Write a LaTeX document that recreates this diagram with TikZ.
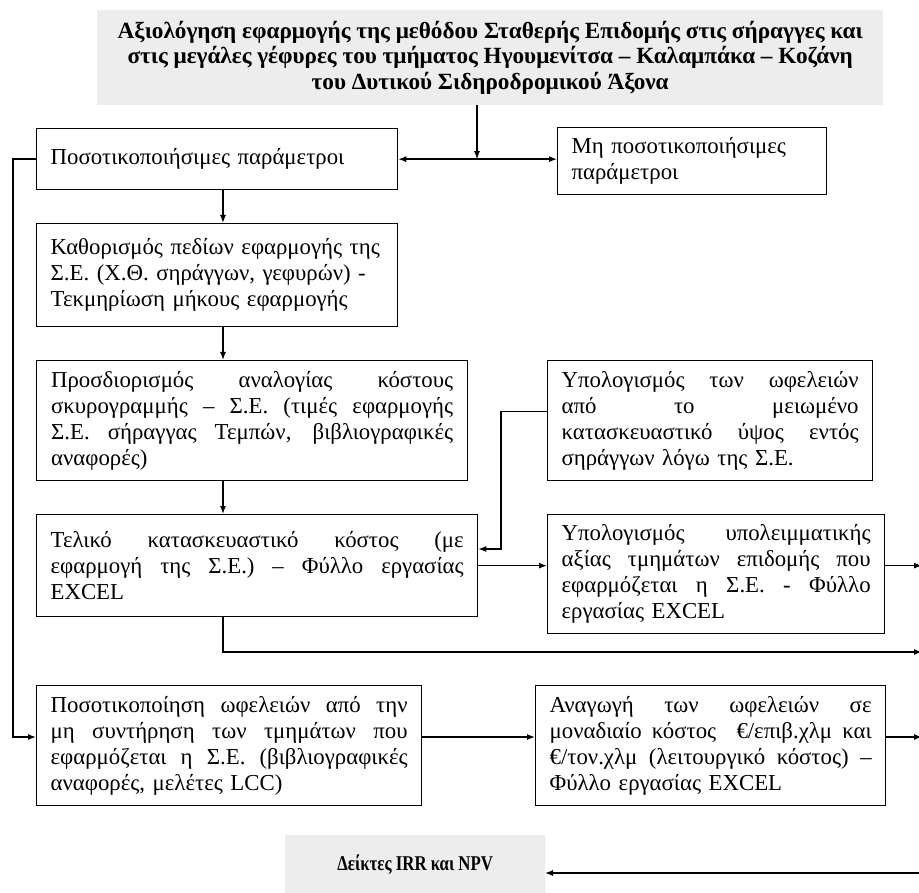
\documentclass[tikz,border=0pt]{standalone}
\usepackage{fontspec}
\usepackage{graphicx}
\setmainfont{Liberation Serif}
\usetikzlibrary{arrows.meta}
\newcommand{\jl}[1]{{\spaceskip=0pt\xspaceskip=0pt\makebox[\hsize][s]{#1}}\\}
\begin{document}
\begin{tikzpicture}[x=1pt,y=-1pt,
  font=\fontsize{22.8}{26}\selectfont,
  box/.style n args={3}{draw, line width=1.3pt, anchor=north west, inner xsep=14pt, inner ysep=0pt,
    align=left, text width=#1, minimum width=#2, minimum height=#3},
  graybox/.style n args={2}{fill=gray!14, anchor=north west, inner sep=0pt, align=center,
    minimum width=#1, minimum height=#2, font=\fontsize{23.2}{25.5}\selectfont\bfseries},
  conn/.style={line width=1.3pt, -{Latex[length=8pt,width=6pt]}},
  conn2/.style={line width=1.3pt, {Latex[length=8pt,width=6pt]}-{Latex[length=8pt,width=6pt]}}]
\useasboundingbox (0,0) rectangle (919,893);

\node[graybox={786pt}{95pt}] (title) at (97,10) {Αξιολόγηση εφαρμογής της μεθόδου Σταθερής Επιδομής στις σήραγγες και\\ στις μεγάλες γέφυρες του τμήματος Ηγουμενίτσα – Καλαμπάκα – Κοζάνη\\ του Δυτικού Σιδηροδρομικού Άξονα};

\node[box={333pt}{361pt}{61pt}] (b1) at (36,128) {Ποσοτικοποιήσιμες παράμετροι};
\node[box={241pt}{269pt}{67pt}] (bM) at (557,127) {Μη ποσοτικοποιήσιμες\\ παράμετροι};
\node[box={333pt}{361pt}{103pt}] (b2) at (36,223) {Καθορισμός πεδίων εφαρμογής της\\ Σ.Ε. (Χ.Θ. σηράγγων, γεφυρών) -\\ Τεκμηρίωση μήκους εφαρμογής};
\node[box={402pt}{431pt}{120pt}] (b3) at (36,360) {\jl{Προσδιορισμός αναλογίας κόστους}\jl{σκυρογραμμής – Σ.Ε. (τιμές εφαρμογής}\jl{Σ.Ε. σήραγγας Τεμπών, βιβλιογραφικές}αναφορές)};
\node[box={413pt}{441pt}{102pt}] (b4) at (36,514) {\jl{Τελικό κατασκευαστικό κόστος (με}\jl{εφαρμογή της Σ.Ε.) – Φύλλο εργασίας}EXCEL};
\node[box={297pt}{325pt}{120pt}] (b5) at (547,360) {\jl{Υπολογισμός των ωφελειών}\jl{από το μειωμένο}\jl{κατασκευαστικό ύψος εντός}σηράγγων λόγω της Σ.Ε.};
\node[box={309pt}{337pt}{119pt}] (b6) at (547,514) {\jl{Υπολογισμός υπολειμματικής}\jl{αξίας τμημάτων επιδομής που}\jl{εφαρμόζεται η Σ.Ε. - Φύλλο}εργασίας EXCEL};
\node[box={357pt}{385pt}{120pt}] (b7) at (36,685) {\jl{Ποσοτικοποίηση ωφελειών από την}\jl{μη συντήρηση των τμημάτων που}\jl{εφαρμόζεται η Σ.Ε. (βιβλιογραφικές}αναφορές, μελέτες LCC)};
\node[box={322pt}{350pt}{120pt}] (b8) at (535,685) {\jl{Αναγωγή των ωφελειών σε}\jl{μοναδιαίο κόστος \ €/επιβ.χλμ και}\jl{€/τον.χλμ (λειτουργικό κόστος) –}Φύλλο εργασίας EXCEL};
\node[graybox={260pt}{58pt}, font=\fontsize{21}{24}\selectfont\bfseries] (irr) at (285,835) {\scalebox{0.8}[1]{Δείκτες IRR και NPV}};

\coordinate (ax) at (223,0);
\coordinate (jx) at (477,0);
\coordinate (rx) at (922,0);
\coordinate (c1) at (501,549);
\coordinate (c2) at (223,652);
\coordinate (c3) at (13,737);
\coordinate (c4) at (545,873);

\draw[conn] (title.south -| jx) -- (b1.east -| jx);
\draw[conn2] (b1.east) -- (b1.east -| bM.west);
\draw[conn] (b1.south -| ax) -- (b2.north -| ax);
\draw[conn] (b2.south -| ax) -- (b3.north -| ax);
\draw[conn] (b3.south -| ax) -- (b4.north -| ax);
\draw[conn] ([yshift=9pt]b5.west) -| (c1) -- (c1 -| b4.east);
\draw[conn] (b4.east) -- (b4.east -| b6.west);
\draw[conn] (b4.east -| b6.east) -- (b4.east -| rx);
\draw[conn] (b4.south -| ax) -- (c2) -- (c2 -| rx);
\draw[conn] (b1.west) -| (c3) -- (c3 -| b7.west);
\draw[conn] (c3 -| b7.east) -- (c3 -| b8.west);
\draw[conn] (c3 -| b8.east) -- (c3 -| rx);
\draw[conn] (c4 -| rx) -- (c4);
\end{tikzpicture}
\end{document}
